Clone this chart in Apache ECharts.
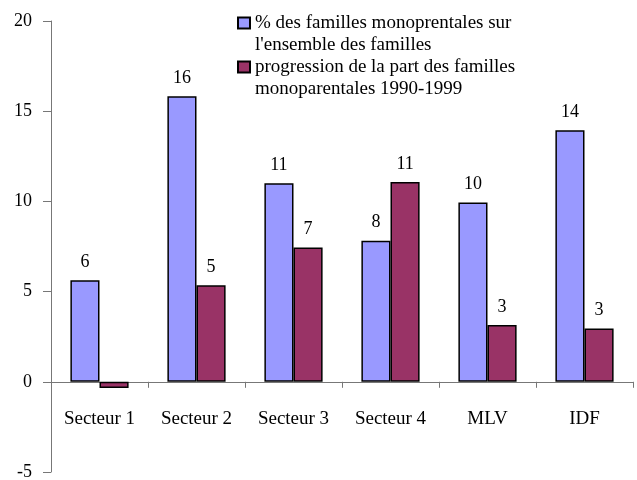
<!DOCTYPE html>
<html>
<head>
<meta charset="utf-8">
<script src="https://cdn.jsdelivr.net/npm/echarts@6/dist/echarts.min.js"></script>
<style>
  html, body { margin: 0; padding: 0; background: #fff; }
  #chart { width: 637px; height: 480px; }
</style>
</head>
<body>
<div id="chart"></div>
<script>
// données
const categories = ['Secteur 1', 'Secteur 2', 'Secteur 3', 'Secteur 4', 'MLV', 'IDF'];
const partMono = [5.63, 15.83, 11.0, 7.82, 9.94, 13.94];
const progression = [-0.35, 5.35, 7.44, 11.07, 3.15, 2.96];
const seriesNames = [
  '% des familles monoprentales sur\nl\'ensemble des familles',
  'progression de la part des familles\nmonoparentales 1990-1999'
];
const yTicks = [-5, 0, 5, 10, 15, 20];

const font = 'Liberation Serif';

const chart = echarts.init(document.getElementById('chart'));

// étiquette au-dessus de la barre, arrondie (pas d'étiquette pour les valeurs négatives)
const barLabel = {
  show: true,
  position: 'top',
  distance: 9,
  fontFamily: font,
  fontSize: 18,
  color: '#000',
  formatter: p => (p.value < 0 ? '' : String(Math.round(p.value)))
};

const option = {
  animation: false,
  backgroundColor: '#fff',
  textStyle: { fontFamily: font },
  grid: { left: 51, right: 4, top: 21, bottom: 8, containLabel: false, outerBoundsMode: 'none' },
  legend: {
    orient: 'vertical',
    left: 237,
    top: -10,
    padding: 0,
    itemGap: -22,
    itemWidth: 12,
    itemHeight: 11,
    icon: 'rect',
    // ligne vide en tête : la première ligne du texte se centre sur le carré
    formatter: name => '\n' + name,
    textStyle: {
      fontFamily: font,
      fontSize: 19,
      color: '#000',
      lineHeight: 22
    },
    data: seriesNames
  },
  xAxis: {
    type: 'category',
    data: categories,
    axisLine: { onZero: true, lineStyle: { color: '#777', width: 1 } },
    axisTick: { show: true, inside: false, length: 6, lineStyle: { color: '#777' } },
    // les libellés restent au bas de la grille : on les remonte sous la ligne du zéro
    axisLabel: { fontFamily: font, fontSize: 19, color: '#000', margin: -62 }
  },
  yAxis: {
    type: 'value',
    min: yTicks[0],
    max: yTicks[yTicks.length - 1],
    interval: 5,
    splitLine: { show: false },
    axisLine: { show: true, lineStyle: { color: '#777', width: 1 } },
    axisTick: { show: true, length: 8, lineStyle: { color: '#777' } },
    axisLabel: { fontFamily: font, fontSize: 18, color: '#000', margin: 19 }
  },
  series: [
    {
      name: seriesNames[0],
      type: 'bar',
      data: partMono,
      barGap: '0%',
      barCategoryGap: '40%',
      itemStyle: { color: '#9999FF', borderColor: '#000', borderWidth: 1.5 },
      label: barLabel
    },
    {
      name: seriesNames[1],
      type: 'bar',
      data: progression,
      barGap: '0%',
      barCategoryGap: '40%',
      itemStyle: { color: '#993366', borderColor: '#000', borderWidth: 1.5 },
      label: barLabel
    }
  ]
};

chart.setOption(option);
</script>
</body>
</html>
